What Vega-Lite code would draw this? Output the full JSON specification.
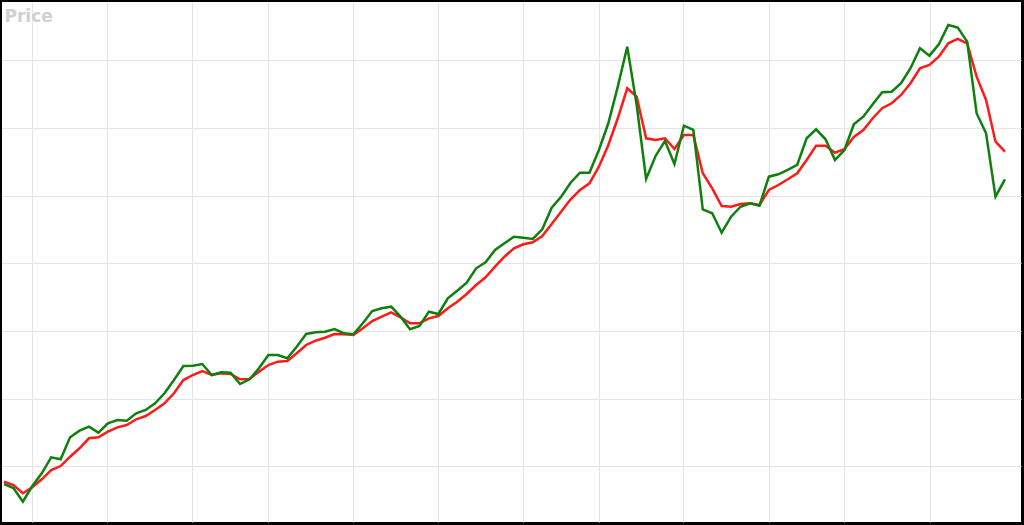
{
  "$schema": "https://vega.github.io/schema/vega-lite/v6.json",
  "width": 1024,
  "height": 525,
  "autosize": {"type": "fit", "contains": "padding"},
  "padding": {"left": -2, "top": 2, "right": 3, "bottom": 3},
  "background": "#000000",
  "config": {"view": {"fill": "#ffffff", "stroke": null}},
  "data": {"values": [
    {"t":0,"price":7.38,"ma":7.72},{"t":1,"price":6.79,"ma":7.24},{"t":2,"price":4.77,"ma":6.01},{"t":3,"price":7.09,"ma":6.90},{"t":4,"price":8.97,"ma":8.08},
    {"t":5,"price":11.33,"ma":9.45},{"t":6,"price":11.03,"ma":10.04},{"t":7,"price":14.29,"ma":11.42},{"t":8,"price":15.26,"ma":12.66},{"t":9,"price":15.85,"ma":14.14},
    {"t":10,"price":14.97,"ma":14.29},{"t":11,"price":16.35,"ma":15.11},{"t":12,"price":16.84,"ma":15.76},{"t":13,"price":16.74,"ma":16.10},{"t":14,"price":17.83,"ma":16.95},
    {"t":15,"price":18.32,"ma":17.43},{"t":16,"price":19.31,"ma":18.32},{"t":17,"price":20.79,"ma":19.31},{"t":18,"price":22.75,"ma":20.79},{"t":19,"price":24.82,"ma":22.75},
    {"t":20,"price":24.87,"ma":23.49},{"t":21,"price":25.12,"ma":24.08},{"t":22,"price":23.49,"ma":23.49},{"t":23,"price":23.89,"ma":23.74},{"t":24,"price":23.83,"ma":23.64},
    {"t":25,"price":22.16,"ma":22.86},{"t":26,"price":22.86,"ma":22.90},{"t":27,"price":24.48,"ma":23.98},{"t":28,"price":26.45,"ma":24.97},{"t":29,"price":26.45,"ma":25.46},
    {"t":30,"price":25.96,"ma":25.56},{"t":31,"price":27.67,"ma":26.70},{"t":32,"price":29.55,"ma":27.93},{"t":33,"price":29.80,"ma":28.56},{"t":34,"price":29.89,"ma":29.00},
    {"t":35,"price":30.29,"ma":29.55},{"t":36,"price":29.65,"ma":29.50},{"t":37,"price":29.51,"ma":29.40},{"t":38,"price":31.13,"ma":30.39},{"t":39,"price":32.95,"ma":31.47},
    {"t":40,"price":33.35,"ma":32.11},{"t":41,"price":33.59,"ma":32.76},{"t":42,"price":32.11,"ma":32.02},{"t":43,"price":30.25,"ma":31.13},{"t":44,"price":30.73,"ma":31.13},
    {"t":45,"price":32.85,"ma":31.87},{"t":46,"price":32.51,"ma":32.21},{"t":47,"price":34.83,"ma":33.35},{"t":48,"price":35.95,"ma":34.32},{"t":49,"price":37.13,"ma":35.46},
    {"t":50,"price":39.26,"ma":36.79},{"t":51,"price":40.15,"ma":37.93},{"t":52,"price":41.96,"ma":39.50},{"t":53,"price":42.96,"ma":40.97},{"t":54,"price":43.93,"ma":42.22},
    {"t":55,"price":43.78,"ma":42.81},{"t":56,"price":43.59,"ma":43.10},{"t":57,"price":45.02,"ma":44.03},{"t":58,"price":48.22,"ma":45.81},{"t":59,"price":49.84,"ma":47.63},
    {"t":60,"price":51.91,"ma":49.46},{"t":61,"price":53.39,"ma":50.83},{"t":62,"price":53.39,"ma":51.82},{"t":63,"price":56.74,"ma":54.28},{"t":64,"price":60.69,"ma":57.48},
    {"t":65,"price":66.10,"ma":61.43},{"t":66,"price":72.01,"ma":65.86},{"t":67,"price":63.39,"ma":64.62},{"t":68,"price":52.46,"ma":58.47},{"t":69,"price":55.86,"ma":58.22},
    {"t":70,"price":58.07,"ma":58.47},{"t":71,"price":54.67,"ma":56.89},{"t":72,"price":60.33,"ma":58.96},{"t":73,"price":59.70,"ma":58.96},{"t":74,"price":47.98,"ma":53.30},
    {"t":75,"price":47.39,"ma":51.08},{"t":76,"price":44.52,"ma":48.47},{"t":77,"price":46.89,"ma":48.36},{"t":78,"price":48.36,"ma":48.76},{"t":79,"price":48.87,"ma":48.87},
    {"t":80,"price":48.51,"ma":48.61},{"t":81,"price":52.80,"ma":50.83},{"t":82,"price":53.15,"ma":51.57},{"t":83,"price":53.79,"ma":52.41},{"t":84,"price":54.53,"ma":53.30},
    {"t":85,"price":58.47,"ma":55.27},{"t":86,"price":59.80,"ma":57.38},{"t":87,"price":58.32,"ma":57.38},{"t":88,"price":55.26,"ma":56.34},{"t":89,"price":56.74,"ma":56.85},
    {"t":90,"price":60.54,"ma":58.66},{"t":91,"price":61.66,"ma":59.70},{"t":92,"price":63.50,"ma":61.43},{"t":93,"price":65.27,"ma":62.91},{"t":94,"price":65.36,"ma":63.64},
    {"t":95,"price":66.60,"ma":64.87},{"t":96,"price":68.82,"ma":66.60},{"t":97,"price":71.77,"ma":68.82},{"t":98,"price":70.68,"ma":69.30},{"t":99,"price":72.36,"ma":70.53},
    {"t":100,"price":75.22,"ma":72.51},{"t":101,"price":74.82,"ma":73.15},{"t":102,"price":72.75,"ma":72.51},{"t":103,"price":62.17,"ma":67.58},{"t":104,"price":59.21,"ma":64.13},
    {"t":105,"price":49.84,"ma":57.97},{"t":106,"price":52.41,"ma":56.49}
  ]},
  "transform": [{"fold": ["ma", "price"], "as": ["series", "value"]}],
  "mark": {"type": "line", "strokeWidth": 2.5},
  "encoding": {
    "x": {
      "field": "t", "type": "quantitative",
      "scale": {"domain": [-0.21, 107.7], "nice": false, "zero": false},
      "axis": {
        "title": null, "labels": false, "ticks": false, "domain": false,
        "minExtent": 0, "maxExtent": 0, "offset": 0,
        "grid": true, "gridColor": "#e4e4e4", "gridWidth": 1,
        "values": [2.93, 10.94, 19.88, 27.99, 36.93, 45.99, 54.99, 63.04, 71.94, 81.04, 88.95, 98.06]
      }
    },
    "y": {
      "field": "value", "type": "quantitative",
      "scale": {"domain": [1.77, 78.61], "nice": false, "zero": false},
      "axis": {
        "labels": false, "ticks": false, "domain": false,
        "minExtent": 0, "maxExtent": 0, "offset": 0,
        "grid": true, "gridColor": "#e4e4e4", "gridWidth": 1,
        "values": [10, 20, 30, 40, 50, 60, 70],
        "title": "Price", "titleAngle": 0, "titleX": 2, "titleY": 19,
        "titleAlign": "left", "titleBaseline": "alphabetic",
        "titleFont": "DejaVu Sans", "titleFontSize": 17, "titleFontWeight": "bold",
        "titleColor": "#d0d0d0"
      }
    },
    "color": {
      "field": "series", "type": "nominal",
      "scale": {"domain": ["ma", "price"], "range": ["#ff1a1a", "#0f7f0f"]},
      "legend": null
    },
    "order": {"field": "t", "type": "quantitative"}
  }
}
